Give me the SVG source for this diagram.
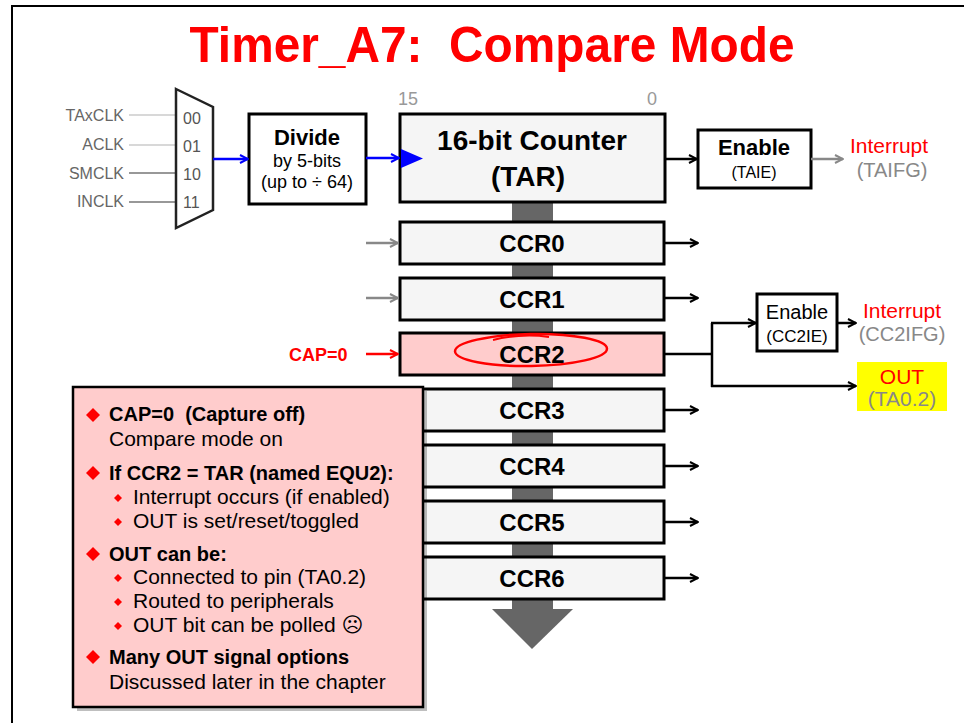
<svg xmlns="http://www.w3.org/2000/svg" width="964" height="723" viewBox="0 0 964 723">
<defs>
<style>
.t{font-family:"Liberation Sans",Arial,sans-serif}
.b{font-weight:bold}
.box{stroke:#000;stroke-width:3}
.reg{fill:#f5f5f5;stroke:#000;stroke-width:3}
.ccr{font-family:"Liberation Sans",Arial,sans-serif;font-weight:bold;font-size:24px;text-anchor:middle;fill:#000}
.ln{fill:none;stroke:#000;stroke-width:2.5}
.gl{fill:none;stroke:#888;stroke-width:2.5}
.bl{fill:none;stroke:#0000ff;stroke-width:2.5}
.note{font-family:"Liberation Sans",Arial,sans-serif;font-size:21px;fill:#000;white-space:pre}
.note.b{font-size:20px}
</style>
<marker id="ak" viewBox="0 0 10 10" refX="9" refY="5" markerWidth="10" markerHeight="10" markerUnits="userSpaceOnUse" orient="auto"><path d="M1,1 L9,5 L1,9" fill="none" stroke="#000" stroke-width="2"/></marker>
<marker id="ag" viewBox="0 0 10 10" refX="9" refY="5" markerWidth="10" markerHeight="10" markerUnits="userSpaceOnUse" orient="auto"><path d="M1,1 L9,5 L1,9" fill="none" stroke="#888" stroke-width="2"/></marker>
<marker id="ab" viewBox="0 0 10 10" refX="9" refY="5" markerWidth="10" markerHeight="10" markerUnits="userSpaceOnUse" orient="auto"><path d="M1,1 L9,5 L1,9" fill="none" stroke="#0000ff" stroke-width="2"/></marker>
<marker id="ar" viewBox="0 0 10 10" refX="9" refY="5" markerWidth="10" markerHeight="10" markerUnits="userSpaceOnUse" orient="auto"><path d="M1,1 L9,5 L1,9" fill="none" stroke="#ff0000" stroke-width="2"/></marker>
</defs>
<rect width="964" height="723" fill="#fff"/>
<path d="M12,723 V6 H964" fill="none" stroke="#000" stroke-width="2"/>
<text class="t b" x="492" y="62" font-size="50" fill="#ff0000" text-anchor="middle" textLength="605" lengthAdjust="spacingAndGlyphs" style="white-space:pre">Timer_A7:  Compare Mode</text>

<!-- gray data bus arrow -->
<g id="bus">
<rect x="512" y="200" width="41" height="410" fill="#666"/>
<polygon points="492,609 573,609 532,649" fill="#666"/>
</g>

<g id="inputs" class="t" font-size="16" fill="#666" text-anchor="end">
<text x="124" y="121">TAxCLK</text>
<text x="124" y="150">ACLK</text>
<text x="124" y="179">SMCLK</text>
<text x="124" y="207">INCLK</text>
<path d="M129,115 H176 M129,145 H176" stroke="#ccc" stroke-width="1.5"/>
<path d="M129,173 H176 M129,202 H176" stroke="#777" stroke-width="1.5"/>
</g>

<g id="mux">
<polygon points="176,89 213,107 213,210 176,228" fill="#fff" stroke="#222" stroke-width="2.5"/>
<g class="t" font-size="16" fill="#555">
<text x="183" y="124">00</text>
<text x="183" y="152">01</text>
<text x="183" y="180">10</text>
<text x="183" y="208">11</text>
</g>
</g>

<g id="divide">
<rect x="249" y="114" width="117" height="90" fill="#fff" class="box"/>
<text class="t b" x="307" y="145" font-size="22" text-anchor="middle">Divide</text>
<text class="t" x="307" y="167" font-size="18" text-anchor="middle">by 5-bits</text>
<text class="t" x="307" y="188" font-size="18" text-anchor="middle">(up to ÷ 64)</text>
</g>

<g id="counter">
<rect x="400" y="114" width="265" height="88" class="reg"/>
<polygon points="401,149 423,158.5 401,168" fill="#0000ff"/>
<text class="t b" x="532" y="150" font-size="28" text-anchor="middle">16-bit Counter</text>
<text class="t b" x="528" y="186" font-size="28" text-anchor="middle">(TAR)</text>
<text class="t" x="398" y="105" font-size="18" fill="#999">15</text>
<text class="t" x="647" y="105" font-size="18" fill="#999">0</text>
</g>

<g id="enable-taie">
<rect x="698" y="130" width="113" height="58" fill="#fff" class="box"/>
<text class="t b" x="754" y="155" font-size="22" text-anchor="middle">Enable</text>
<text class="t" x="754" y="178" font-size="16" text-anchor="middle">(TAIE)</text>
</g>
<g id="taifg" class="t" font-size="21" text-anchor="middle">
<text x="889" y="153" fill="#ff0000">Interrupt</text>
<text x="892" y="177" fill="#888" font-size="20">(TAIFG)</text>
</g>

<g id="ccr0"><rect x="400" y="222" width="264" height="42" class="reg"/><text class="ccr" x="532" y="252">CCR0</text></g>
<g id="ccr1"><rect x="400" y="278" width="264" height="42" class="reg"/><text class="ccr" x="532" y="308">CCR1</text></g>
<g id="ccr2"><rect x="400" y="333" width="264" height="42" fill="#ffcccc" stroke="#000" stroke-width="3"/><text class="ccr" x="532" y="363">CCR2</text>
<ellipse cx="531" cy="350" rx="76" ry="16" fill="none" stroke="#ff0000" stroke-width="2.5" transform="rotate(-1 531 350)"/>
<path d="M493,340 Q522,333 549,337" fill="none" stroke="#ff0000" stroke-width="2"/>
</g>
<g id="ccr3"><rect x="400" y="389" width="264" height="42" class="reg"/><text class="ccr" x="532" y="419">CCR3</text></g>
<g id="ccr4"><rect x="400" y="445" width="264" height="42" class="reg"/><text class="ccr" x="532" y="475">CCR4</text></g>
<g id="ccr5"><rect x="400" y="501" width="264" height="42" class="reg"/><text class="ccr" x="532" y="531">CCR5</text></g>
<g id="ccr6"><rect x="400" y="557" width="264" height="42" class="reg"/><text class="ccr" x="532" y="587">CCR6</text></g>

<g id="cap0"><text class="t b" x="289" y="361" font-size="18" fill="#ff0000">CAP=0</text></g>

<g id="enable-cc2ie">
<rect x="757" y="294" width="80" height="57" fill="#fff" class="box"/>
<text class="t" x="797" y="319" font-size="20" text-anchor="middle">Enable</text>
<text class="t" x="797" y="342" font-size="17" text-anchor="middle">(CC2IE)</text>
</g>
<g id="cc2ifg" class="t" font-size="21" text-anchor="middle">
<text x="902" y="318" fill="#ff0000">Interrupt</text>
<text x="902" y="341" fill="#888" font-size="20">(CC2IFG)</text>
</g>
<g id="out">
<rect x="857" y="362" width="90" height="49" fill="#ffff00"/>
<text class="t" x="902" y="384" font-size="21" fill="#ff0000" text-anchor="middle">OUT</text>
<text class="t" x="902" y="406" font-size="21" fill="#888" text-anchor="middle">(TA0.2)</text>
</g>

<g id="connectors">
<path class="bl" d="M213,159 H248" marker-end="url(#ab)"/>
<path class="bl" d="M366,158 H399" marker-end="url(#ab)"/>
<path class="ln" d="M665,159 H697" marker-end="url(#ak)"/>
<path class="gl" d="M811,159 H843" marker-end="url(#ag)"/>
<path class="gl" d="M366,243 H398" marker-end="url(#ag)"/>
<path class="gl" d="M366,298 H398" marker-end="url(#ag)"/>
<path d="M366,354 H398" fill="none" stroke="#ff0000" stroke-width="2.5" marker-end="url(#ar)"/>
<path class="ln" d="M664,243 H698" marker-end="url(#ak)"/>
<path class="ln" d="M664,298 H698" marker-end="url(#ak)"/>
<path class="ln" d="M664,410 H698" marker-end="url(#ak)"/>
<path class="ln" d="M664,466 H698" marker-end="url(#ak)"/>
<path class="ln" d="M664,522 H698" marker-end="url(#ak)"/>
<path class="ln" d="M664,578 H698" marker-end="url(#ak)"/>
<path class="ln" d="M664,354 H712"/>
<path class="ln" d="M712,323 V387"/>
<path class="ln" d="M711,323 H756" marker-end="url(#ak)"/>
<path class="ln" d="M711,386 H856" marker-end="url(#ak)"/>
<path class="ln" d="M837,323 H856" marker-end="url(#ak)"/>
</g>

<g id="notes">
<rect x="77" y="391" width="350" height="320" fill="#000" opacity="0.25"/>
<rect x="73" y="387" width="350" height="320" fill="#ffcccc" stroke="#000" stroke-width="2.5"/>
<g fill="#ff0000">
<polygon points="93,408 100,415 93,422 86,415"/>
<polygon points="93,466 100,473 93,480 86,473"/>
<polygon points="93,547 100,554 93,561 86,554"/>
<polygon points="93,650 100,657 93,664 86,657"/>
<polygon points="118,494 122,498 118,502 114,498"/>
<polygon points="118,518 122,522 118,526 114,522"/>
<polygon points="118,574 122,578 118,582 114,578"/>
<polygon points="118,598 122,602 118,606 114,602"/>
<polygon points="118,622 122,626 118,630 114,626"/>
</g>
<text class="note b" x="109" y="421">CAP=0  (Capture off)</text>
<text class="note" x="109" y="446">Compare mode on</text>
<text class="note b" x="109" y="480">If CCR2 = TAR (named EQU2):</text>
<text class="note" x="133" y="504">Interrupt occurs (if enabled)</text>
<text class="note" x="133" y="528">OUT is set/reset/toggled</text>
<text class="note b" x="109" y="561">OUT can be:</text>
<text class="note" x="133" y="584">Connected to pin (TA0.2)</text>
<text class="note" x="133" y="608">Routed to peripherals</text>
<text class="note" x="133" y="632">OUT bit can be polled <tspan font-family="DejaVu Sans,sans-serif">☹</tspan></text>
<text class="note b" x="109" y="664">Many OUT signal options</text>
<text class="note" x="109" y="689">Discussed later in the chapter</text>
</g>
</svg>
